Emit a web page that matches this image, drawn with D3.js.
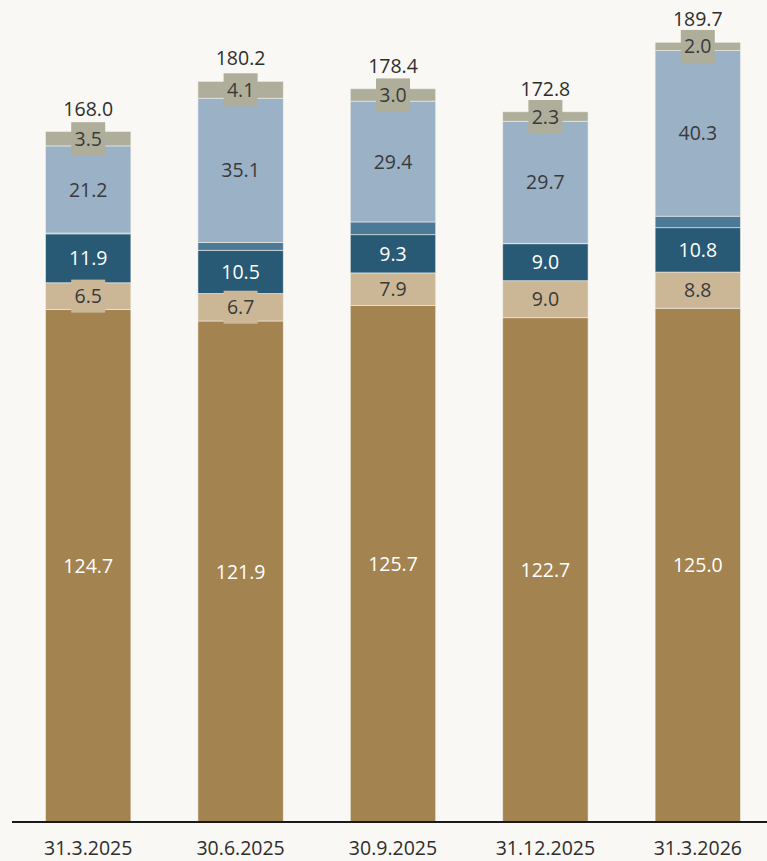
<!DOCTYPE html>
<html>
<head>
  <meta charset="utf-8">
  <title>Stacked bars</title>
  <script src="https://cdn.jsdelivr.net/npm/d3@7"></script>
  <style>
    body { margin: 0; background: #f9f8f4; }
    text { font-family: "Open Sans", "Noto Sans", sans-serif; }
  </style>
</head>
<body>
  <script>
    // values
    const dates = ["31.3.2025", "30.6.2025", "30.9.2025", "31.12.2025", "31.3.2026"];
    const seriesA = [124.7, 121.9, 125.7, 122.7, 125.0];
    const seriesB = [6.5, 6.7, 7.9, 9.0, 8.8];
    const seriesC = [11.9, 10.5, 9.3, 9.0, 10.8];
    const seriesD = [0.2, 1.9, 3.1, 0.1, 2.8]; // unlabelled thin segment
    const seriesE = [21.2, 35.1, 29.4, 29.7, 40.3];
    const seriesF = [3.5, 4.1, 3.0, 2.3, 2.0];
    const totals = [168.0, 180.2, 178.4, 172.8, 189.7];

    const width = 767, height = 861;
    const baseY = 822;
    const fs = 19.5;

    const series = [
      {vals: seriesA, fill: "#a38350", text: "#ffffff", label: true},
      {vals: seriesB, fill: "#cbb796", text: "#3a3a3a", label: true},
      {vals: seriesC, fill: "#285975", text: "#ffffff", label: true},
      {vals: seriesD, fill: "#4a7a95", text: "#ffffff", label: false},
      {vals: seriesE, fill: "#9ab1c6", text: "#3a3a3a", label: true},
      {vals: seriesF, fill: "#afae9a", text: "#3a3a3a", label: true}
    ];

    const svg = d3.select("body").append("svg")
      .attr("width", width)
      .attr("height", height);

    const x = d3.scaleBand()
      .domain(dates)
      .range([12, 774])
      .paddingInner(0.44)
      .paddingOuter(0.22);

    const y = d3.scaleLinear()
      .domain([0, 200])
      .range([baseY, 0]);

    const segs = [];
    dates.forEach(function(d, i) {
      let acc = 0;
      series.forEach(function(s) {
        const v = s.vals[i];
        segs.push({date: d, y0: acc, y1: acc + v, v: v, s: s});
        acc += v;
      });
    });

    const g = svg.append("g");

    g.selectAll("rect.seg")
      .data(segs)
      .enter()
      .append("rect")
      .attr("class", "seg")
      .attr("x", d => x(d.date))
      .attr("width", x.bandwidth())
      .attr("y", d => y(d.y1))
      .attr("height", d => y(d.y0) - y(d.y1))
      .attr("fill", d => d.s.fill)
      .attr("stroke", "#f4f2ec")
      .attr("stroke-width", 0.8)
      .attr("stroke-opacity", 0.7);

    // labels, with a small box behind those that do not fit the segment
    const lab = g.selectAll("g.lab")
      .data(segs.filter(d => d.s.label))
      .enter()
      .append("g")
      .attr("class", "lab")
      .attr("transform", d => "translate(" + (x(d.date) + x.bandwidth() / 2) + "," + ((y(d.y0) + y(d.y1)) / 2) + ")");

    lab.filter(d => y(d.y0) - y(d.y1) < 30)
      .append("rect")
      .attr("x", -17)
      .attr("y", -16.5)
      .attr("width", 34)
      .attr("height", 33)
      .attr("fill", d => d.s.fill);

    lab.append("text")
      .attr("text-anchor", "middle")
      .attr("dy", "0.36em")
      .attr("font-size", fs)
      .attr("fill", d => d.s.text)
      .text(d => d3.format(".1f")(d.v));

    // totals above bars
    g.selectAll("text.total")
      .data(dates)
      .enter()
      .append("text")
      .attr("class", "total")
      .attr("x", d => x(d) + x.bandwidth() / 2)
      .attr("y", (d, i) => y(totals[i]) - 23)
      .attr("dy", "0.36em")
      .attr("text-anchor", "middle")
      .attr("font-size", fs)
      .attr("fill", "#2e2e2e")
      .text((d, i) => d3.format(".1f")(totals[i]));

    // x axis
    const axis = svg.append("g")
      .attr("transform", "translate(0," + baseY + ")")
      .call(d3.axisBottom(x).tickSize(0).tickPadding(19));
    axis.select(".domain").remove();
    axis.append("line")
      .attr("x1", 12).attr("x2", width)
      .attr("stroke", "#1a1a1a")
      .attr("stroke-width", 2);
    axis.selectAll(".tick text")
      .attr("font-size", fs)
      .attr("font-family", "'Open Sans', 'Noto Sans', sans-serif")
      .attr("fill", "#2e2e2e");
  </script>
</body>
</html>
